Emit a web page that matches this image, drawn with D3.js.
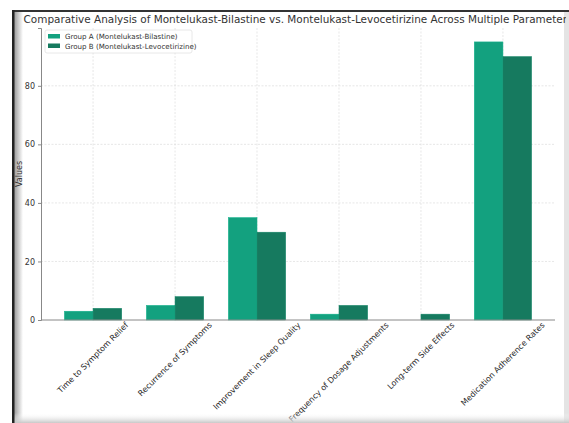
<!DOCTYPE html>
<html>
<head>
<meta charset="utf-8">
<script src="https://cdn.jsdelivr.net/npm/d3@7"></script>
<style>
  body { margin: 0; background: #fff; }
  svg { display: block; font-family: 'DejaVu Sans', sans-serif; }
</style>
</head>
<body>
<svg width="569" height="423"></svg>
<script>
const categories = ['Time to Symptom Relief', 'Recurrence of Symptoms', 'Improvement in Sleep Quality',
  'Frequency of Dosage Adjustments', 'Long-term Side Effects', 'Medication Adherence Rates']
const groupA = [3, 5, 35, 2, 0, 95]
const groupB = [4, 8, 30, 5, 2, 90]
const seriesNames = ['Group A (Montelukast-Bilastine)', 'Group B (Montelukast-Levocetirizine)']
const yTicks = [0, 20, 40, 60, 80]
const title = 'Comparative Analysis of Montelukast-Bilastine vs. Montelukast-Levocetirizine Across Multiple Parameters'

const colors = ['#13a17f', '#167a5f']
const plot = { left: 41, right: 555, top: 28, bottom: 320 }
const barW = 0.35

const svg = d3.select('svg')

// frame of the screenshot
const defs = svg.append('defs')
const gl = defs.append('linearGradient').attr('id', 'gl')
gl.append('stop').attr('offset', '0').attr('stop-color', '#999')
gl.append('stop').attr('offset', '1').attr('stop-color', '#fff')
const gb = defs.append('linearGradient').attr('id', 'gb').attr('x1', 0).attr('x2', 0).attr('y1', 0).attr('y2', 1)
gb.append('stop').attr('offset', '0').attr('stop-color', '#fff').attr('stop-opacity', 0)
gb.append('stop').attr('offset', '1').attr('stop-color', '#c8c8c8')
defs.append('clipPath').attr('id', 'frame')
  .append('rect').attr('x', 14).attr('y', 12).attr('width', 552).attr('height', 411)

svg.append('rect').attr('x', 12).attr('y', 10).attr('width', 557).attr('height', 413).attr('fill', '#fff')
svg.append('rect').attr('x', 14).attr('y', 12).attr('width', 9).attr('height', 411).attr('fill', 'url(#gl)')
svg.append('rect').attr('x', 564).attr('y', 10).attr('width', 5).attr('height', 413).attr('fill', '#e4e4e4')

const g = svg.append('g').attr('clip-path', 'url(#frame)')

const x = d3.scaleLinear()
  .domain([-0.635, categories.length - 1 + 0.635])
  .range([plot.left, plot.right])
const y = d3.scaleLinear()
  .domain([0, 99.75])
  .range([plot.bottom, plot.top])

// grid
g.append('g').selectAll('line')
  .data(yTicks.filter(d => d > 0))
  .join('line')
  .attr('x1', plot.left).attr('x2', plot.right)
  .attr('y1', d => y(d)).attr('y2', d => y(d))
  .attr('stroke', '#ddd').attr('stroke-width', 0.7).attr('stroke-dasharray', '2,1.5')
g.append('g').selectAll('line')
  .data(categories)
  .join('line')
  .attr('x1', (d, i) => x(i)).attr('x2', (d, i) => x(i))
  .attr('y1', plot.top).attr('y2', plot.bottom)
  .attr('stroke', '#ddd').attr('stroke-width', 0.7).attr('stroke-dasharray', '2,1.5')

// bars
const series = [groupA, groupB]
series.forEach((vals, s) => {
  g.append('g').selectAll('rect')
    .data(vals)
    .join('rect')
    .attr('x', (d, i) => x(i + (s - 1) * barW))
    .attr('width', x(barW) - x(0))
    .attr('y', d => y(d))
    .attr('height', d => y(0) - y(d))
    .attr('fill', colors[s])
    .attr('stroke', d3.color(colors[s]).brighter(0.3))
    .attr('stroke-width', 0.5)
})

// axes
const yAxis = d3.axisLeft(y).tickValues(yTicks).tickSize(3).tickPadding(3)
const ya = g.append('g').attr('transform', `translate(${plot.left},0)`).call(yAxis)
ya.select('.domain').attr('stroke', '#888').attr('stroke-width', 1)
ya.selectAll('.tick line').attr('stroke', '#888')
ya.selectAll('.tick text').attr('font-size', 8).attr('fill', '#333').attr('font-family', 'DejaVu Sans')

g.append('line')
  .attr('x1', plot.left).attr('x2', plot.right)
  .attr('y1', plot.bottom).attr('y2', plot.bottom)
  .attr('stroke', '#888').attr('stroke-width', 1)

// x labels, rotated 45 and centred on the tick
const xl = g.append('g')
categories.forEach((c, i) => {
  const t = xl.append('text')
    .attr('font-size', 8)
    .attr('fill', '#2a2a2a')
    .attr('text-anchor', 'middle')
    .attr('dominant-baseline', 'central')
    .text(c)
  const w = t.node().getComputedTextLength()
  const cy = plot.bottom + 1 + (w + 8) * Math.SQRT1_2 / 2
  t.attr('transform', `translate(${x(i)},${cy}) rotate(-45)`)
})

g.append('text')
  .attr('transform', `translate(22,${(plot.top + plot.bottom) / 2}) rotate(-90)`)
  .attr('text-anchor', 'middle')
  .attr('font-size', 8)
  .attr('fill', '#333')
  .text('Values')

// title (cut by the frame on the right, as in the picture)
g.append('text')
  .attr('x', (plot.left + plot.right) / 2)
  .attr('y', 23)
  .attr('text-anchor', 'middle')
  .attr('font-size', 10.45)
  .attr('fill', '#333')
  .text(title)

// legend
const lg = g.append('g').attr('transform', 'translate(45,30)')
lg.append('rect').attr('width', 147).attr('height', 23).attr('rx', 2)
  .attr('fill', '#fff').attr('fill-opacity', 0.8).attr('stroke', '#e2e2e2').attr('stroke-width', 0.8)
seriesNames.forEach((n, i) => {
  lg.append('rect').attr('x', 3).attr('y', 4 + i * 9.5).attr('width', 12).attr('height', 4.5).attr('fill', colors[i])
  lg.append('text').attr('x', 20).attr('y', 6.5 + i * 9.5).attr('dominant-baseline', 'central')
    .attr('font-size', 7.1).attr('fill', '#333').text(n)
})

// frame edges drawn over the content
svg.append('rect').attr('x', 14).attr('y', 413).attr('width', 555).attr('height', 10).attr('fill', 'url(#gb)')
svg.append('rect').attr('x', 12).attr('y', 10).attr('width', 557).attr('height', 2).attr('fill', '#333')
svg.append('rect').attr('x', 12).attr('y', 10).attr('width', 2.5).attr('height', 413).attr('fill', '#222')
</script>
</body>
</html>
